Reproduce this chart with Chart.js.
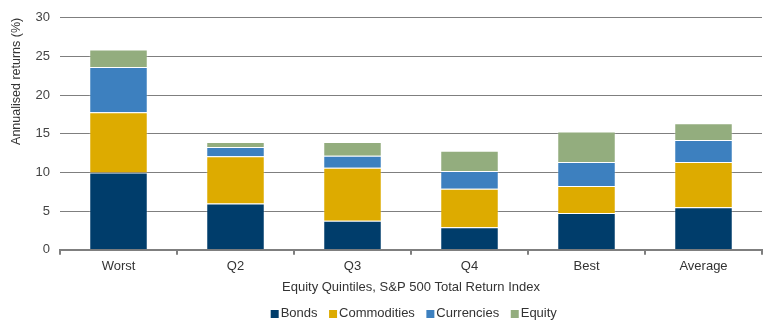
<!DOCTYPE html>
<html>
<head>
<meta charset="utf-8">
<script src="https://cdn.jsdelivr.net/npm/chart.js@4"></script>
<style>
  html, body { margin: 0; padding: 0; background: #fff; }
  #wrap { width: 770px; height: 326px; }
</style>
</head>
<body>
<div id="wrap"><canvas id="myChart" width="770" height="326"></canvas></div>
<script>
// Categories and series values (annualised returns, %)
const categories = ["Worst", "Q2", "Q3", "Q4", "Best", "Average"];
const bonds = [10.0, 6.0, 3.75, 2.9, 4.75, 5.5];
const commodities = [7.8, 6.1, 6.85, 5.0, 3.5, 5.85];
const currencies = [5.85, 1.2, 1.55, 2.3, 3.1, 2.85];
const equity = [2.25, 0.65, 1.8, 2.6, 3.95, 2.15];
const yTicks = [0, 5, 10, 15, 20, 25, 30];

const fontFamily = "'Liberation Sans', Arial, sans-serif";
const textColor = "#333";

// Small square legend marker drawn on the right side of a wider canvas,
// so the label text sits right next to it
function legendMarker(color) {
    var c = document.createElement("canvas");
    c.width = 20;
    c.height = 8;
    var g = c.getContext("2d");
    g.fillStyle = color;
    g.fillRect(11, 0, 8, 8);
    return c;
}

function series(label, values, color) {
    return {
        label: label,
        data: values,
        backgroundColor: color,
        borderColor: "rgba(255,255,255,0.25)",
        borderWidth: 1,
        barPercentage: 0.5,
        categoryPercentage: 1.0,
        marker: legendMarker(color)
    };
}

const ctx = document.getElementById("myChart").getContext("2d");
const myChart = new Chart(ctx, {
    type: "bar",
    data: {
        labels: categories,
        datasets: [
            series("Bonds", bonds, "#003d6b"),
            series("Commodities", commodities, "#ddab00"),
            series("Currencies", currencies, "#3d80bf"),
            series("Equity", equity, "#93ad7e")
        ]
    },
    options: {
        responsive: false,
        animation: false,
        layout: { padding: { top: 10, right: 8, bottom: -4, left: 0 } },
        plugins: {
            legend: {
                position: "bottom",
                fullSize: false,
                labels: {
                    usePointStyle: true,
                    pointStyleWidth: 9,
                    padding: 6,
                    color: textColor,
                    font: { family: fontFamily, size: 13 },
                    generateLabels: function (chart) {
                        var items = Chart.defaults.plugins.legend.labels.generateLabels(chart);
                        items.forEach(function (item) {
                            item.pointStyle = chart.data.datasets[item.datasetIndex].marker;
                        });
                        return items;
                    }
                }
            },
            tooltip: { enabled: false }
        },
        scales: {
            x: {
                stacked: true,
                grid: {
                    drawOnChartArea: false,
                    drawTicks: true,
                    tickLength: 5,
                    color: "#7f7f7f",
                    lineWidth: 2
                },
                border: { color: "#7f7f7f", width: 2 },
                ticks: {
                    color: textColor,
                    padding: 4,
                    font: { family: fontFamily, size: 13 }
                },
                title: {
                    display: true,
                    text: "Equity Quintiles, S&P 500 Total Return Index",
                    color: textColor,
                    padding: { top: 1, bottom: 6 },
                    font: { family: fontFamily, size: 13 }
                }
            },
            y: {
                stacked: true,
                min: 0,
                max: 30,
                afterBuildTicks: function (scale) {
                    scale.ticks = yTicks.map(function (v) { return { value: v }; });
                },
                afterFit: function (scale) { scale.width = 60; },
                grid: {
                    drawTicks: false,
                    color: "#7f7f7f",
                    lineWidth: 1
                },
                border: { display: false },
                ticks: {
                    color: "#444",
                    padding: 10,
                    font: { family: fontFamily, size: 13 }
                },
                title: {
                    display: true,
                    text: "Annualised returns (%)",
                    align: "end",
                    color: textColor,
                    padding: { top: 9, bottom: 1 },
                    font: { family: fontFamily, size: 12.5 }
                }
            }
        }
    }
});
</script>
</body>
</html>
